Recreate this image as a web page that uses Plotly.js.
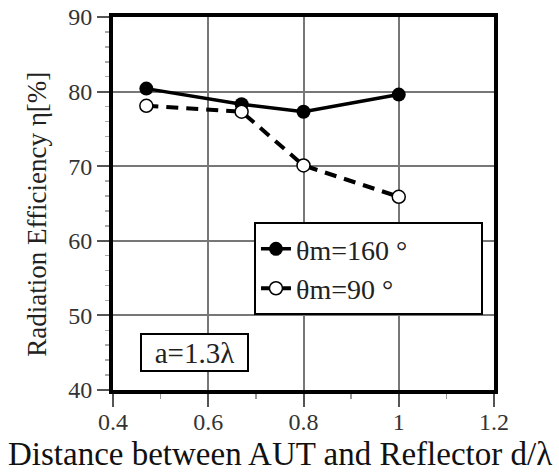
<!DOCTYPE html>
<html>
<head>
<meta charset="utf-8">
<script src="https://cdn.plot.ly/plotly-3.0.1.min.js"></script>
<style>html,body{margin:0;padding:0;background:#fff;}#chart{width:559px;height:473px;}</style>
</head>
<body>
<div id="chart"></div>
<script>
// Data
const distance = [0.47, 0.67, 0.80, 1.00];
const eff160 = [80.4, 78.3, 77.3, 79.6];
const eff90 = [78.1, 77.3, 70.1, 65.9];
const seriesNames = ["θm=160 °", "θm=90 °"];
const xTicks = [0.4, 0.6, 0.8, 1, 1.2];
const xTickLabels = ["0.4", "0.6", "0.8", "1", "1.2"];
const yTicks = [40, 50, 60, 70, 80, 90];
const xTitle = "Distance between AUT and Reflector d/λ";
const yTitle = "Radiation Efficiency η[%]";
const noteText = "a=1.3λ";

const serif = "Liberation Serif, Times New Roman, serif";

const traces = [
  {
    x: distance, y: eff160, name: seriesNames[0], type: "scatter", mode: "lines+markers",
    line: {color: "#000", width: 3.5},
    marker: {symbol: "circle", size: 14, color: "#000"},
    legendrank: 1
  },
  {
    x: distance, y: eff90, name: seriesNames[1], type: "scatter", mode: "lines+markers",
    line: {color: "#000", width: 4, dash: "12px,8px"},
    marker: {symbol: "circle", size: 13, color: "#fff", line: {color: "#000", width: 1.5}},
    legendrank: 2
  }
];

const layout = {
  width: 559, height: 473,
  margin: {l: 113, r: 65, t: 17, b: 83},
  paper_bgcolor: "#fff", plot_bgcolor: "#fff",
  font: {family: serif, color: "#222"},
  showlegend: true,
  legend: {
    orientation: "h",
    x: 0.37, y: 0.45, xanchor: "left", yanchor: "top",
    bgcolor: "#fff", bordercolor: "#000", borderwidth: 2,
    font: {family: serif, size: 28, color: "#222"},
    itemwidth: 30, entrywidth: 180, entrywidthmode: "pixels"
  },
  xaxis: {
    range: [0.4, 1.2], tickvals: xTicks, ticktext: xTickLabels,
    ticks: "outside", ticklen: 13, tickwidth: 2, tickcolor: "#555",
    ticklabelstandoff: -6,
    tickfont: {family: serif, size: 24, color: "#333"},
    showgrid: true, gridcolor: "#777", gridwidth: 2,
    showline: true, linecolor: "#000", linewidth: 4, mirror: true,
    zeroline: false,
    minor: {dtick: 0.1, ticks: "outside", ticklen: 5, tickwidth: 1.5, tickcolor: "#999", showgrid: false}
  },
  yaxis: {
    range: [40, 90], tickvals: yTicks,
    ticks: "outside", ticklen: 12, tickwidth: 2, tickcolor: "#555",
    tickfont: {family: serif, size: 24, color: "#333"},
    showgrid: true, gridcolor: "#777", gridwidth: 2,
    showline: true, linecolor: "#000", linewidth: 4, mirror: true,
    zeroline: false,
    minor: {dtick: 2, ticks: "outside", ticklen: 4, tickwidth: 1.5, tickcolor: "#aaa", showgrid: false}
  },
  annotations: [
    {
      xref: "paper", yref: "paper", x: 0.07, y: 0.048, xanchor: "left", yanchor: "bottom",
      text: noteText, showarrow: false, width: 103, height: 33,
      font: {family: serif, size: 29, color: "#222"},
      bordercolor: "#000", borderwidth: 2, borderpad: 1, bgcolor: "#fff"
    },
    {
      xref: "paper", yref: "paper", x: 0.438, y: -0.172, xanchor: "center", yanchor: "middle",
      text: xTitle, showarrow: false,
      font: {family: serif, size: 33, color: "#111"}
    },
    {
      xref: "paper", yref: "paper", x: -0.2, y: 0.472, xanchor: "center", yanchor: "middle",
      text: yTitle, showarrow: false, textangle: -90,
      font: {family: serif, size: 27, color: "#222"}
    }
  ]
};

Plotly.newPlot("chart", traces, layout, {displayModeBar: false, staticPlot: true});
</script>
</body>
</html>
